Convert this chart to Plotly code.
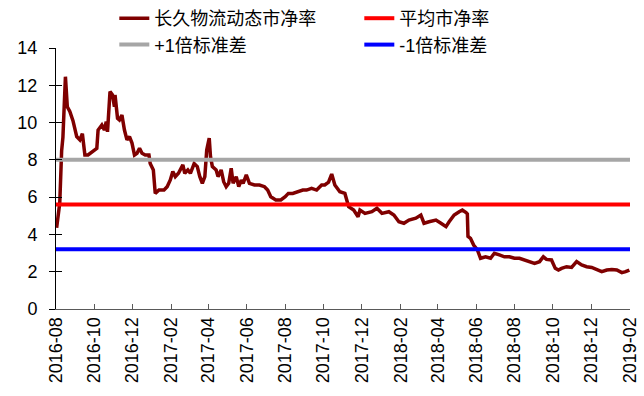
import plotly.graph_objects as go

dates = [
    "2016-08-02", "2016-08-07", "2016-08-10", "2016-08-12", "2016-08-16", "2016-08-19", "2016-08-23", "2016-08-28",
    "2016-09-03", "2016-09-08", "2016-09-12", "2016-09-16", "2016-09-21", "2016-09-29",
    "2016-10-05", "2016-10-07", "2016-10-13", "2016-10-17", "2016-10-20", "2016-10-22", "2016-10-26", "2016-10-30",
    "2016-11-02", "2016-11-03", "2016-11-07", "2016-11-10", "2016-11-14", "2016-11-18", "2016-11-22", "2016-11-26", "2016-11-30",
    "2016-12-04", "2016-12-08", "2016-12-12", "2016-12-16", "2016-12-21", "2016-12-27", "2016-12-29",
    "2017-01-03", "2017-01-06", "2017-01-12", "2017-01-20", "2017-01-25", "2017-01-30",
    "2017-02-03", "2017-02-07", "2017-02-12", "2017-02-19", "2017-02-22", "2017-02-27",
    "2017-03-03", "2017-03-09", "2017-03-14", "2017-03-18", "2017-03-22", "2017-03-26", "2017-03-29",
    "2017-04-02", "2017-04-04", "2017-04-07", "2017-04-13", "2017-04-16", "2017-04-21", "2017-04-25", "2017-04-29",
    "2017-05-03", "2017-05-07", "2017-05-10", "2017-05-15", "2017-05-19", "2017-05-23", "2017-05-26", "2017-05-31",
    "2017-06-05", "2017-06-13", "2017-06-21", "2017-06-29",
    "2017-07-04", "2017-07-09", "2017-07-17", "2017-07-25",
    "2017-08-01", "2017-08-06", "2017-08-13", "2017-08-21", "2017-08-29",
    "2017-09-04", "2017-09-12", "2017-09-20", "2017-09-28",
    "2017-10-03", "2017-10-09", "2017-10-14", "2017-10-19", "2017-10-27",
    "2017-11-04", "2017-11-10", "2017-11-18", "2017-11-25", "2017-11-28",
    "2017-12-06", "2017-12-17", "2017-12-25",
    "2018-01-02", "2018-01-13", "2018-01-21", "2018-01-29",
    "2018-02-06", "2018-02-14", "2018-02-25",
    "2018-03-05", "2018-03-10", "2018-03-18", "2018-03-29",
    "2018-04-06", "2018-04-14", "2018-04-19", "2018-04-27",
    "2018-05-05", "2018-05-10", "2018-05-16", "2018-05-18", "2018-05-19", "2018-05-23", "2018-05-28",
    "2018-06-03", "2018-06-08", "2018-06-16", "2018-06-24", "2018-06-30",
    "2018-07-08", "2018-07-16", "2018-07-24",
    "2018-08-01", "2018-08-09", "2018-08-17", "2018-08-25",
    "2018-09-02", "2018-09-10", "2018-09-16", "2018-09-21", "2018-09-29",
    "2018-10-05", "2018-10-10", "2018-10-15", "2018-10-23", "2018-10-31",
    "2018-11-08", "2018-11-16", "2018-11-24",
    "2018-12-02", "2018-12-10", "2018-12-18", "2018-12-26",
    "2019-01-03", "2019-01-11", "2019-01-19", "2019-01-25", "2019-01-31",
]
pb = [
    4.35, 5.7, 8.5, 9.2, 12.46, 10.85, 10.6, 10.1,
    9.25, 9.07, 9.4, 8.26, 8.26, 8.44,
    8.62, 9.6, 9.87, 9.6, 10.05, 9.5, 11.66, 11.48,
    10.85, 11.48, 10.23, 10.14, 10.4, 9.6, 9.07, 9.25, 8.9,
    8.26, 8.35, 8.62, 8.35, 8.26, 8.26, 7.8,
    7.46, 6.2, 6.38, 6.38, 6.56, 6.92,
    7.37, 7.1, 7.28, 7.73, 7.28, 7.46,
    7.28, 7.8, 7.64, 7.1, 6.74, 7.1, 8.53,
    9.16, 8.17, 7.64, 7.46, 7.1, 7.46, 6.83, 6.56,
    6.74, 7.55, 6.74, 7.1, 6.56, 6.92, 6.74, 7.19,
    6.74, 6.65, 6.65, 6.56,
    6.38, 6.02, 5.85, 5.85,
    6.02, 6.2, 6.2, 6.29, 6.38,
    6.38, 6.47, 6.38, 6.65,
    6.65, 6.8, 7.24, 6.65, 6.29,
    6.2, 5.49, 5.31, 4.95, 5.31,
    5.13, 5.22, 5.4,
    5.13, 5.22, 5.04, 4.68,
    4.6, 4.77, 4.87,
    5.04, 4.6, 4.68, 4.77,
    4.6, 4.42, 4.68, 5.04,
    5.22, 5.31, 5.17, 5.1, 3.9, 3.79, 3.43,
    3.17, 2.72, 2.8, 2.72, 2.99,
    2.9, 2.8, 2.8,
    2.72, 2.72, 2.63, 2.54,
    2.45, 2.54, 2.8, 2.66, 2.63,
    2.18, 2.09, 2.18, 2.27, 2.23,
    2.54, 2.36, 2.27,
    2.23, 2.09, 2.0, 2.09,
    2.12, 2.09, 1.95, 2.0, 2.09,
]

band_dates = ["2016-08-01", "2019-02-01"]
mean_pb = 5.6
plus_1sd = 8.0
minus_1sd = 3.2

names = ["长久物流动态市净率", "平均市净率", "+1倍标准差", "-1倍标准差"]
colors = ["#7F0000", "#FF0000", "#A6A6A6", "#0000FF"]

FONT = "Liberation Sans, Arial, Noto Sans CJK SC, sans-serif"

fig = go.Figure()
fig.add_trace(go.Scatter(x=dates, y=pb, mode="lines", name=names[0],
                         line=dict(color=colors[0], width=3.5)))
for nm, val, col in zip(names[1:], [mean_pb, plus_1sd, minus_1sd], colors[1:]):
    fig.add_trace(go.Scatter(x=band_dates, y=[val, val], mode="lines", name=nm,
                             line=dict(color=col, width=4)))

# invisible trace for the inside half of the y ticks
fig.add_trace(go.Scatter(x=band_dates, y=[0, 0], yaxis="y2", mode="lines",
                         line=dict(width=0), showlegend=False, hoverinfo="skip"))

fig.update_layout(
    width=644, height=396,
    margin=dict(l=56, r=14, t=48, b=87, autoexpand=False),
    paper_bgcolor="white", plot_bgcolor="white",
    font=dict(family=FONT, size=18, color="black"),
    showlegend=True,
    legend=dict(orientation="h", xref="container", yref="container",
                x=0.1775, y=1.0, xanchor="left", yanchor="top",
                entrywidth=200, entrywidthmode="pixels",
                font=dict(size=18, color="black"),
                tracegroupgap=0, itemwidth=30, bgcolor="rgba(0,0,0,0)"),
    xaxis=dict(type="date", range=["2016-08-01", "2019-02-01"],
               tick0="2016-08-01", dtick="M2", tickformat="%Y-%m",
               tickangle=-90, ticks="inside", ticklen=5, tickcolor="#595959",
               showline=True, linecolor="#595959", linewidth=1,
               showgrid=False, zeroline=False,
               tickfont=dict(size=18, color="black")),
    yaxis=dict(range=[0, 14], dtick=2, ticks="outside", ticklen=6,
               tickcolor="black", showline=True, linecolor="black", linewidth=1,
               showgrid=False, zeroline=False, ticklabelstandoff=8,
               tickfont=dict(size=18, color="black")),
    yaxis2=dict(range=[0, 14], dtick=2, overlaying="y", side="left",
                ticks="inside", ticklen=6, tickcolor="black",
                showticklabels=False, showline=False, showgrid=False, zeroline=False),
)

fig.write_html("out.html")
